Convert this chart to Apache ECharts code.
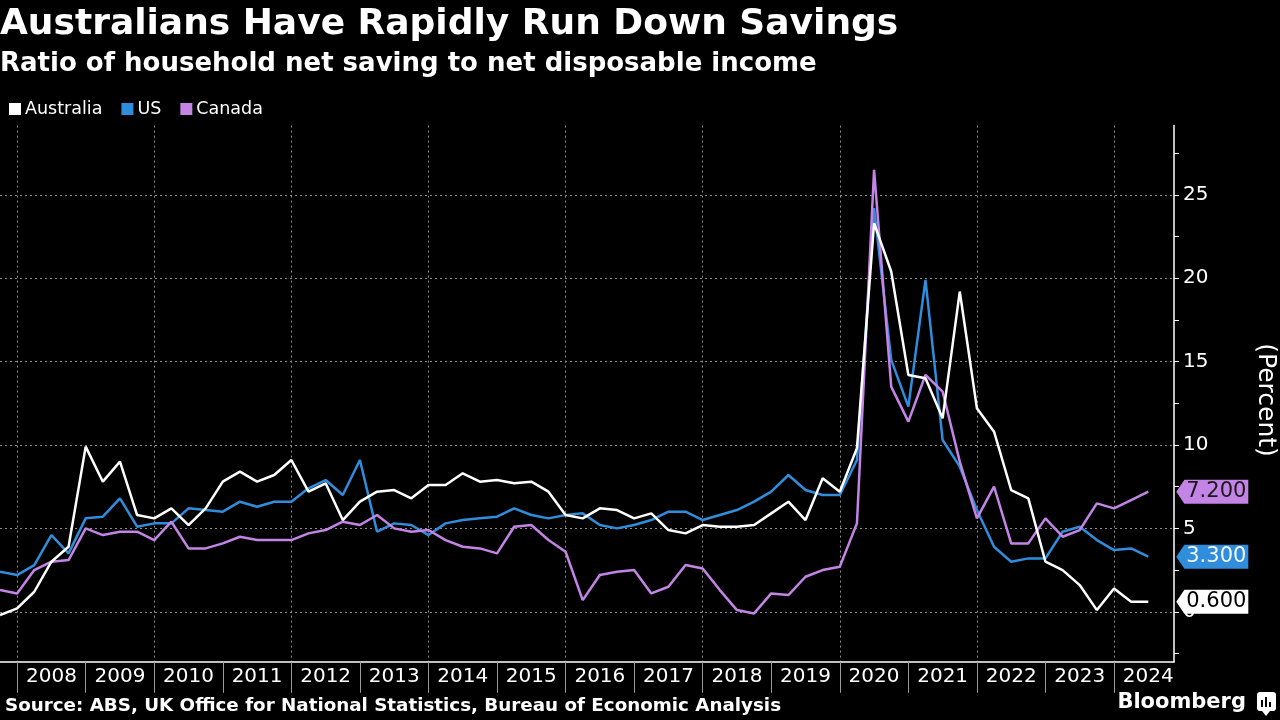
<!DOCTYPE html>
<html>
<head>
<meta charset="utf-8">
<script src="https://cdn.jsdelivr.net/npm/echarts@6/dist/echarts.min.js"></script>
<style>
html,body{margin:0;padding:0;background:#000;}
#chart{width:1280px;height:720px;}
</style>
</head>
<body>
<div id="chart"></div>
<script>
// ---- Data (quarter-end observations) ----
const quarters = [
  '2007Q3','2007Q4',
  '2008Q1','2008Q2','2008Q3','2008Q4',
  '2009Q1','2009Q2','2009Q3','2009Q4',
  '2010Q1','2010Q2','2010Q3','2010Q4',
  '2011Q1','2011Q2','2011Q3','2011Q4',
  '2012Q1','2012Q2','2012Q3','2012Q4',
  '2013Q1','2013Q2','2013Q3','2013Q4',
  '2014Q1','2014Q2','2014Q3','2014Q4',
  '2015Q1','2015Q2','2015Q3','2015Q4',
  '2016Q1','2016Q2','2016Q3','2016Q4',
  '2017Q1','2017Q2','2017Q3','2017Q4',
  '2018Q1','2018Q2','2018Q3','2018Q4',
  '2019Q1','2019Q2','2019Q3','2019Q4',
  '2020Q1','2020Q2','2020Q3','2020Q4',
  '2021Q1','2021Q2','2021Q3','2021Q4',
  '2022Q1','2022Q2','2022Q3','2022Q4',
  '2023Q1','2023Q2','2023Q3','2023Q4',
  '2024Q1','2024Q2'
];
const australia = [
  -0.2, 0.2,
  1.2, 3.0, 3.9, 9.9,
  7.8, 9.0, 5.8, 5.6,
  6.2, 5.2, 6.2, 7.8,
  8.4, 7.8, 8.2, 9.1,
  7.2, 7.7, 5.5, 6.6,
  7.2, 7.3, 6.8, 7.6,
  7.6, 8.3, 7.8, 7.9,
  7.7, 7.8, 7.2, 5.8,
  5.6, 6.2, 6.1, 5.6,
  5.9, 4.9, 4.7, 5.2,
  5.1, 5.1, 5.2, 5.9,
  6.6, 5.5, 8.0, 7.2,
  9.8, 23.3, 20.4, 14.2,
  14.0, 11.6, 19.2, 12.2,
  10.8, 7.3, 6.8, 3.0,
  2.5, 1.6, 0.1, 1.4,
  0.6, 0.6
];
const us = [
  2.4, 2.2,
  2.8, 4.6, 3.5, 5.6,
  5.7, 6.8, 5.1, 5.3,
  5.3, 6.2, 6.1, 6.0,
  6.6, 6.3, 6.6, 6.6,
  7.4, 7.9, 7.0, 9.1,
  4.8, 5.3, 5.2, 4.6,
  5.3, 5.5, 5.6, 5.7,
  6.2, 5.8, 5.6, 5.8,
  5.9, 5.2, 5.0, 5.2,
  5.5, 6.0, 6.0, 5.5,
  5.8, 6.1, 6.6, 7.2,
  8.2, 7.3, 7.0, 7.0,
  9.1, 24.2, 15.1, 12.3,
  19.9, 10.3, 8.7, 6.1,
  3.9, 3.0, 3.2, 3.2,
  4.8, 5.1, 4.3, 3.7,
  3.8, 3.3
];
const canada = [
  1.3, 1.1,
  2.5, 3.0, 3.1, 5.0,
  4.6, 4.8, 4.8, 4.3,
  5.4, 3.8, 3.8, 4.1,
  4.5, 4.3, 4.3, 4.3,
  4.7, 4.9, 5.4, 5.2,
  5.8, 5.0, 4.8, 4.9,
  4.3, 3.9, 3.8, 3.5,
  5.1, 5.2, 4.3, 3.6,
  0.7, 2.2, 2.4, 2.5,
  1.1, 1.5, 2.8, 2.6,
  1.3, 0.1, -0.1, 1.1,
  1.0, 2.1, 2.5, 2.7,
  5.3, 26.5, 13.5, 11.4,
  14.2, 13.2, 9.0, 5.6,
  7.5, 4.1, 4.1, 5.6,
  4.5, 4.9, 6.5, 6.2,
  6.7, 7.2
];
const yearLabels = ['2008','2009','2010','2011','2012','2013','2014','2015','2016','2017','2018','2019','2020','2021','2022','2023','2024'];
const gridYears = ['2008','2010','2012','2014','2016','2018','2020','2022','2024'];
const yTickValues = [-2.5, 0, 2.5, 5, 7.5, 10, 12.5, 15, 17.5, 20, 22.5, 25, 27.5];
const yLabelValues = [0, 5, 10, 15, 20, 25];

// ---- helpers ----
const FONT = '"DejaVu Sans", sans-serif';
function qx(q) { return Number(q.slice(0, 4)) + Number(q.slice(5)) / 4; }
function pairs(vals) { return quarters.map((q, i) => [qx(q), vals[i]]); }
const X_MIN = 2007.75, X_MAX = 2024.875, Y_MIN = -3, Y_MAX = 29.15;
const yearStarts = yearLabels.map(Number);
const yearMids = yearLabels.map(y => Number(y) + 0.5);

const COLORS = { Australia: '#ffffff', US: '#2f8ddb', Canada: '#c384e6' };
const TAG = 'path://M0,12L9,0L80,0L80,24L9,24Z';
const GRID_LINE = { color: '#8c8c8c', type: [2, 3], width: 1 };

function endTag(vals, bg, fg) {
  const last = vals.length - 1;
  return {
    silent: true,
    symbol: TAG,
    symbolSize: [72, 24],
    symbolKeepAspect: false,
    symbolOffset: [64, 0],
    itemStyle: { color: bg },
    label: {
      show: true, position: 'inside', offset: [4, 0],
      color: fg, fontSize: 21, fontFamily: FONT,
      formatter: p => p.value.toFixed(3)
    },
    data: [{ coord: [qx(quarters[last]), vals[last]], value: vals[last] }]
  };
}

function lineSeries(name, vals, z, tagFg) {
  return {
    name, type: 'line', data: pairs(vals),
    xAxisIndex: 0, yAxisIndex: 0,
    showSymbol: false, symbol: 'none', z,
    lineStyle: { color: COLORS[name], width: 2.5 },
    itemStyle: { color: COLORS[name] },
    emphasis: { disabled: true },
    markPoint: endTag(vals, COLORS[name], tagFg)
  };
}

const chart = echarts.init(document.getElementById('chart'), null, { renderer: 'canvas' });
chart.setOption({
  backgroundColor: '#000000',
  animation: false,
  textStyle: { fontFamily: FONT },
  grid: { left: 0, right: 106, top: 125.6, bottom: 58.2, containLabel: false },
  legend: {
    data: ['Australia', 'US', 'Canada'],
    left: 9, top: 100, padding: 0,
    icon: 'rect', itemWidth: 12, itemHeight: 12, itemGap: 19,
    textStyle: { color: '#ffffff', fontSize: 17.5, fontFamily: FONT, padding: [0, 0, 0, -1] },
    selectedMode: false
  },
  xAxis: [
    {
      type: 'value', min: X_MIN, max: X_MAX, position: 'bottom',
      axisLine: { show: true, onZero: false, lineStyle: { color: '#ffffff', width: 1.5 } },
      axisTick: { show: true, customValues: yearStarts, length: 31, lineStyle: { color: '#9a9a9a', width: 1 } },
      axisLabel: {
        customValues: yearMids, color: '#ffffff', fontSize: 20, fontFamily: FONT, margin: 5,
        formatter: v => yearLabels[yearMids.indexOf(v)]
      },
      splitLine: { show: false }
    },
    {
      type: 'value', min: X_MIN, max: X_MAX, position: 'top',
      axisLine: { show: false, onZero: false },
      axisTick: { show: false, customValues: gridYears.map(Number) },
      axisLabel: { show: false },
      splitLine: { show: true, lineStyle: GRID_LINE }
    }
  ],
  yAxis: [
    {
      type: 'value', min: Y_MIN, max: Y_MAX, position: 'right',
      axisLine: { show: true, onZero: false, lineStyle: { color: '#ffffff', width: 1.5 } },
      axisTick: { show: true, customValues: yTickValues, length: 5, lineStyle: { color: '#ffffff' } },
      axisLabel: { customValues: yLabelValues, color: '#ffffff', fontSize: 20, fontFamily: FONT, margin: 9 },
      splitLine: { show: false }
    },
    {
      type: 'value', min: Y_MIN, max: Y_MAX, position: 'left',
      axisLine: { show: false, onZero: false },
      axisTick: { show: false, customValues: yLabelValues },
      axisLabel: { show: false },
      splitLine: { show: true, lineStyle: GRID_LINE }
    }
  ],
  series: [
    lineSeries('US', us, 3, '#eef6ff'),
    lineSeries('Canada', canada, 4, '#1a1a1a'),
    lineSeries('Australia', australia, 5, '#000000')
  ],
  graphic: [
    { type: 'text', x: 0, y: 25, style: { text: 'Australians Have Rapidly Run Down Savings', fill: '#ffffff', font: 'bold 36px ' + FONT, textAlign: 'left', textVerticalAlign: 'middle' } },
    { type: 'text', x: 0, y: 64, style: { text: 'Ratio of household net saving to net disposable income', fill: '#ffffff', font: 'bold 26px ' + FONT, textAlign: 'left', textVerticalAlign: 'middle' } },
    { type: 'text', x: 1265, y: 400, rotation: -Math.PI / 2, style: { text: '(Percent)', fill: '#ffffff', font: '25px ' + FONT, textAlign: 'center', textVerticalAlign: 'middle' } },
    { type: 'text', x: 5, y: 706, style: { text: 'Source: ABS, UK Office for National Statistics, Bureau of Economic Analysis', fill: '#ffffff', font: 'bold 18.3px ' + FONT, textAlign: 'left', textVerticalAlign: 'middle' } },
    { type: 'text', x: 1246, y: 703, style: { text: 'Bloomberg', fill: '#ffffff', font: 'bold 21px ' + FONT, textAlign: 'right', textVerticalAlign: 'middle' } },
    { type: 'group', children: [
      { type: 'rect', shape: { x: 1257, y: 692, width: 19, height: 19, r: 3 }, style: { fill: '#ffffff' } },
      { type: 'rect', shape: { x: 1261, y: 700, width: 2, height: 7 }, style: { fill: '#000' } },
      { type: 'rect', shape: { x: 1265, y: 697, width: 2, height: 10 }, style: { fill: '#000' } },
      { type: 'rect', shape: { x: 1269, y: 702, width: 2, height: 5 }, style: { fill: '#000' } },
      { type: 'polygon', shape: { points: [[1262, 711], [1270, 711], [1266, 716]] }, style: { fill: '#ffffff' } }
    ]}
  ]
});
</script>
</body>
</html>
